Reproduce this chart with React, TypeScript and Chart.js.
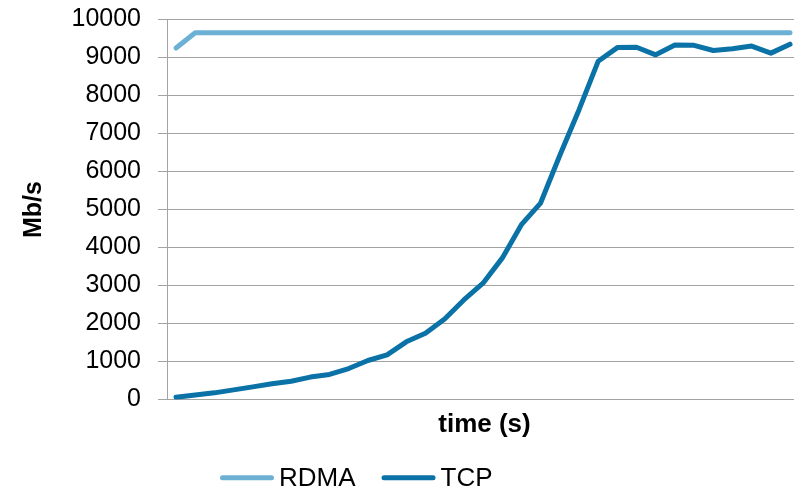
import React, { useEffect, useRef } from "react";
import { Chart, registerables } from "chart.js";

Chart.register(...registerables);

// ---- data ----
const timeSteps = [0, 1, 2, 3, 4, 5, 6, 7, 8, 9, 10, 11, 12, 13, 14, 15, 16, 17, 18, 19, 20, 21, 22, 23, 24, 25, 26, 27, 28, 29, 30, 31, 32];
const rdmaMbps = [9250, 9650, 9650, 9650, 9650, 9650, 9650, 9650, 9650, 9650, 9650, 9650, 9650, 9650, 9650, 9650, 9650, 9650, 9650, 9650, 9650, 9650, 9650, 9650, 9650, 9650, 9650, 9650, 9650, 9650, 9650, 9650, 9650];
const tcpMbps = [60, 120, 175, 254, 333, 412, 480, 590, 660, 815, 1026, 1175, 1518, 1745, 2120, 2620, 3060, 3720, 4600, 5170, 6420, 7620, 8900, 9260, 9270, 9070, 9330, 9320, 9185, 9230, 9300, 9115, 9350];
const yTickValues = [0, 1000, 2000, 3000, 4000, 5000, 6000, 7000, 8000, 9000, 10000];
const seriesNames = ["RDMA", "TCP"];
const xTitle = "time (s)";
const yTitle = "Mb/s";

const FONT = '"Liberation Sans", Arial, Helvetica, sans-serif';
const RDMA_COLOR = "#6CB0D4";
const TCP_COLOR = "#0A72A6";
const GRID_COLOR = "#A3A3A3";

const legendPlugin = {
  id: "bottomLegend",
  afterDraw(chart: any) {
    const ctx = chart.ctx as CanvasRenderingContext2D;
    ctx.save();
    ctx.font = `26px ${FONT}`;
    ctx.textBaseline = "middle";
    ctx.textAlign = "left";
    let x = 222.5;
    const y = 477.7;
    chart.data.datasets.forEach((ds: any) => {
      ctx.strokeStyle = ds.borderColor;
      ctx.lineWidth = 5;
      ctx.lineCap = "round";
      ctx.beginPath();
      ctx.moveTo(x, y);
      ctx.lineTo(x + 49, y);
      ctx.stroke();
      x += 49 + 7.5;
      ctx.fillStyle = "#000";
      ctx.fillText(ds.label, x, y + 1);
      x += ctx.measureText(ds.label).width + 28.5;
    });
    ctx.restore();
  },
};

export default function App() {
  const canvasRef = useRef<HTMLCanvasElement | null>(null);

  useEffect(() => {
    const canvas = canvasRef.current;
    if (!canvas) return;
    const chart = new Chart(canvas, {
      type: "line",
      data: {
        datasets: [
          {
            label: seriesNames[0],
            data: timeSteps.map((t, i) => ({ x: t, y: rdmaMbps[i] })),
            borderColor: RDMA_COLOR,
            backgroundColor: RDMA_COLOR,
            borderWidth: 5,
            pointRadius: 0,
            borderCapStyle: "round",
            borderJoinStyle: "round",
            tension: 0,
            fill: false,
          },
          {
            label: seriesNames[1],
            data: timeSteps.map((t, i) => ({ x: t, y: tcpMbps[i] })),
            borderColor: TCP_COLOR,
            backgroundColor: TCP_COLOR,
            borderWidth: 5,
            pointRadius: 0,
            borderCapStyle: "round",
            borderJoinStyle: "round",
            tension: 0,
            fill: false,
          },
        ],
      },
      options: {
        responsive: false,
        animation: false,
        events: [],
        layout: { padding: { top: 19.5, right: 0, bottom: 51.3, left: 0 } },
        plugins: {
          legend: { display: false },
          tooltip: { enabled: false },
          title: { display: false },
        },
        scales: {
          x: {
            type: "linear",
            min: timeSteps[0] - 0.47,
            max: timeSteps[timeSteps.length - 1] + 0.625,
            ticks: { display: false },
            grid: { display: false, drawTicks: false },
            border: { display: false },
            title: {
              display: true,
              text: xTitle,
              color: "#000",
              font: { family: FONT, size: 26, weight: "bold" },
              padding: { top: 10, bottom: 0 },
            },
            afterFit: (scale: any) => {
              scale.paddingLeft = 0;
              scale.paddingRight = 0;
            },
          },
          y: {
            min: yTickValues[0],
            max: yTickValues[yTickValues.length - 1],
            afterBuildTicks: (scale: any) => {
              scale.ticks = yTickValues.map((v) => ({ value: v }));
            },
            afterFit: (scale: any) => {
              scale.width = 167;
              scale.paddingTop = 0;
              scale.paddingBottom = 0;
            },
            ticks: {
              color: "#000",
              padding: 17,
              font: { family: FONT, size: 25 },
              callback: (v: any) => String(v),
            },
            grid: { color: GRID_COLOR, lineWidth: 1, drawTicks: true, tickLength: 9 },
            border: { display: true, color: GRID_COLOR, width: 1 },
            title: {
              display: true,
              text: yTitle,
              color: "#000",
              font: { family: FONT, size: 25, weight: "bold" },
              padding: { top: 19, bottom: 0 },
            },
          },
        },
      },
      plugins: [legendPlugin],
    } as any);
    return () => chart.destroy();
  }, []);

  return (
    <div style={{ position: "absolute", left: 0, top: 0, width: 794, height: 492, overflow: "hidden", background: "#fff" }}>
      <canvas ref={canvasRef} width={802} height={492} style={{ display: "block" }} />
    </div>
  );
}
